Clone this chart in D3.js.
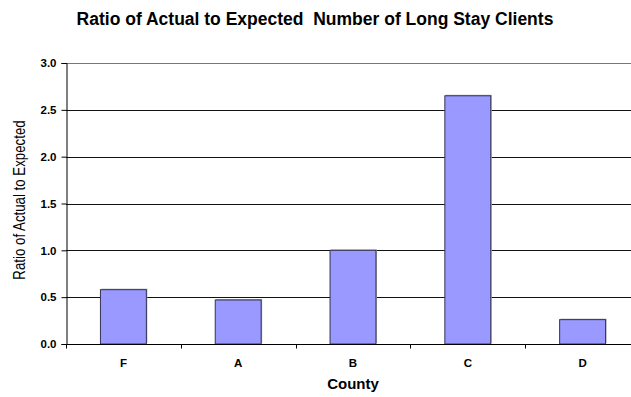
<!DOCTYPE html>
<html><head><meta charset="utf-8">
<script src="https://cdn.jsdelivr.net/npm/d3@7"></script>
<style>body{margin:0;background:#fff}svg{display:block}text{white-space:pre}</style>
</head><body>
<script>
const categories = ["F","A","B","C","D"];
const values = [0.58, 0.47, 1.0, 2.65, 0.26];
const yTicks = [0, 0.5, 1.0, 1.5, 2.0, 2.5, 3.0];
const title = "Ratio of Actual to Expected  Number of Long Stay Clients";
const xTitle = "County";
const yTitle = "Ratio of Actual to Expected";

const W = 631, H = 397;
const svg = d3.select("body").append("svg").attr("width", W).attr("height", H);
const x = d3.scaleBand().domain(categories).range([66, 640]).paddingInner(0.6).paddingOuter(0.3);
const y = d3.scaleLinear().domain([0, 3]).range([344, 63]);
const font = "'Liberation Sans', Arial, sans-serif";

// gridlines
svg.append("g").selectAll("line").data(yTicks.filter(d => d > 0)).join("line")
  .attr("x1", 66).attr("x2", 640)
  .attr("y1", d => Math.round(y(d)) + 0.5).attr("y2", d => Math.round(y(d)) + 0.5)
  .attr("stroke", d => d === 3 ? "#777" : "#111").attr("stroke-width", 1);

// bars shadow + bars
svg.append("g").selectAll("rect").data(categories).join("rect")
  .attr("x", d => x(d) + 1).attr("y", (d, i) => y(values[i]) - 1)
  .attr("width", x.bandwidth()).attr("height", (d, i) => y(0) - y(values[i]))
  .attr("fill", "#aaa");
svg.append("g").selectAll("rect").data(categories).join("rect")
  .attr("x", d => x(d)).attr("y", (d, i) => y(values[i]))
  .attr("width", x.bandwidth()).attr("height", (d, i) => y(0) - y(values[i]))
  .attr("fill", "#9999FF").attr("stroke", "#333355").attr("stroke-width", 1);

// y axis
const ya = svg.append("g").attr("transform", "translate(66.5,0)")
  .call(d3.axisLeft(y).tickValues(yTicks).tickFormat(d3.format(".1f")).tickSizeOuter(0).tickSize(5).tickPadding(5));
ya.select(".domain").attr("stroke", "#000");
ya.selectAll("line").attr("stroke", "#000");
ya.selectAll("text").attr("font-family", font).attr("font-size", 11.5).attr("font-weight", "bold").attr("fill", "#000");

// x axis
const xb = d3.scaleLinear().domain([0, 5]).range([66, 640]);
const xa = svg.append("g").attr("transform", "translate(0,344.5)");
xa.append("line").attr("x1", 66).attr("x2", 640).attr("stroke", "#000");
xa.selectAll("line.t").data([0,1,2,3,4]).join("line").attr("class","t")
  .attr("x1", d => Math.round(xb(d)) + 0.5).attr("x2", d => Math.round(xb(d)) + 0.5)
  .attr("y1", 0).attr("y2", 4).attr("stroke", "#000");
xa.selectAll("text").data(categories).join("text")
  .attr("x", d => x(d) + x.bandwidth() / 2).attr("y", 22.5)
  .attr("text-anchor", "middle").attr("font-family", font).attr("font-size", 11.5)
  .attr("font-weight", "bold").text(d => d);

// titles
svg.append("text").attr("x", 315).attr("y", 25).attr("text-anchor", "middle")
  .attr("font-family", font).attr("font-size", 17.5).attr("font-weight", "bold").text(title);
svg.append("text").attr("x", 353).attr("y", 389).attr("text-anchor", "middle")
  .attr("font-family", font).attr("font-size", 15).attr("font-weight", "bold").text(xTitle);
svg.append("text").attr("transform", "translate(25,200) rotate(-90) scale(0.83,1)").attr("text-anchor", "middle")
  .attr("font-family", font).attr("font-size", 16).text(yTitle);
</script>
</body></html>
